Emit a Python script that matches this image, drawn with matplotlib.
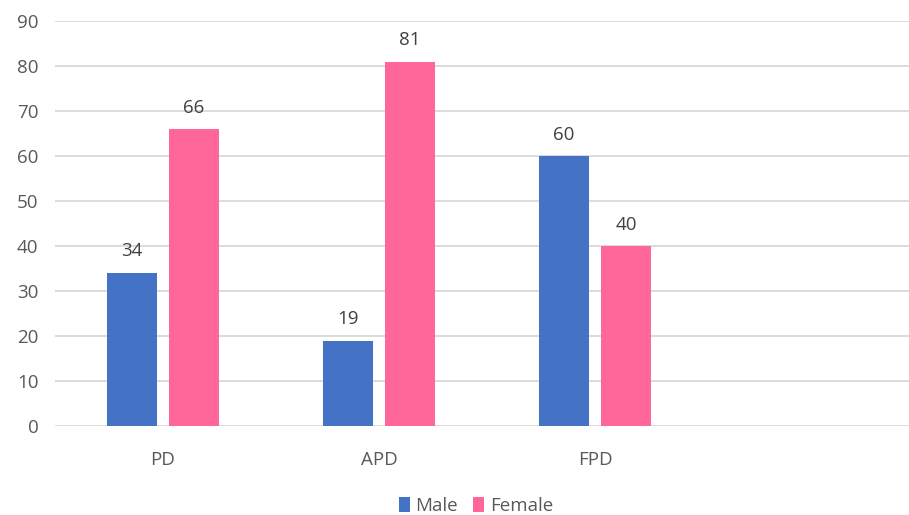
import matplotlib
matplotlib.use("Agg")
import matplotlib.pyplot as plt
import numpy as np

categories = ["PD", "APD", "FPD", ""]
male = [34, 19, 60, None]
female = [66, 81, 40, None]
y_ticks = [0, 10, 20, 30, 40, 50, 60, 70, 80, 90]

plt.rcParams['font.family'] = ['Open Sans', 'DejaVu Sans']

W, H = 909, 515
fig = plt.figure(figsize=(W / 100, H / 100), dpi=100)
ax = fig.add_axes([55 / W, (515 - 426) / H, 864 / W, (426 - 21) / H])

x = np.arange(len(categories))
bw = 0.227
off = 0.1435
blue = "#4472C4"
pink = "#FF6699"
fs = 13.5

mx = [xi for xi, v in zip(x, male) if v is not None]
mv = [v for v in male if v is not None]
fx = [xi for xi, v in zip(x, female) if v is not None]
fv = [v for v in female if v is not None]

b1 = ax.bar(np.array(mx) - off, mv, bw, color=blue, label="Male", zorder=3)
b2 = ax.bar(np.array(fx) + off, fv, bw, color=pink, label="Female", zorder=3)

for bars, vals in ((b1, mv), (b2, fv)):
    for b, v in zip(bars, vals):
        ax.annotate(str(v), (b.get_x() + b.get_width() / 2, v),
                    xytext=(0, 9), textcoords="offset points",
                    ha="center", va="bottom", fontsize=fs, color="#404040")

ax.set_xlim(-0.5, 3.5)
ax.set_ylim(0, 90)
ax.set_yticks(y_ticks)
ax.set_xticks(x)
ax.set_xticklabels(categories)
ax.tick_params(axis="both", length=0, labelsize=fs, colors="#595959")
ax.tick_params(axis="x", pad=18)
ax.tick_params(axis="y", pad=12)
ax.grid(axis="y", color="#d9d9d9", linewidth=1.3, zorder=0)
for s in ax.spines.values():
    s.set_visible(False)

fig.legend(handles=[b1, b2], labels=["Male", "Female"], loc="center",
           bbox_to_anchor=(476 / W, 1 - 506 / H), ncol=2, frameon=False,
           fontsize=fs, handlelength=0.6, handleheight=0.8, handletextpad=0.3,
           columnspacing=0.8, labelcolor="#595959")

fig.savefig("out.png", dpi=100)
